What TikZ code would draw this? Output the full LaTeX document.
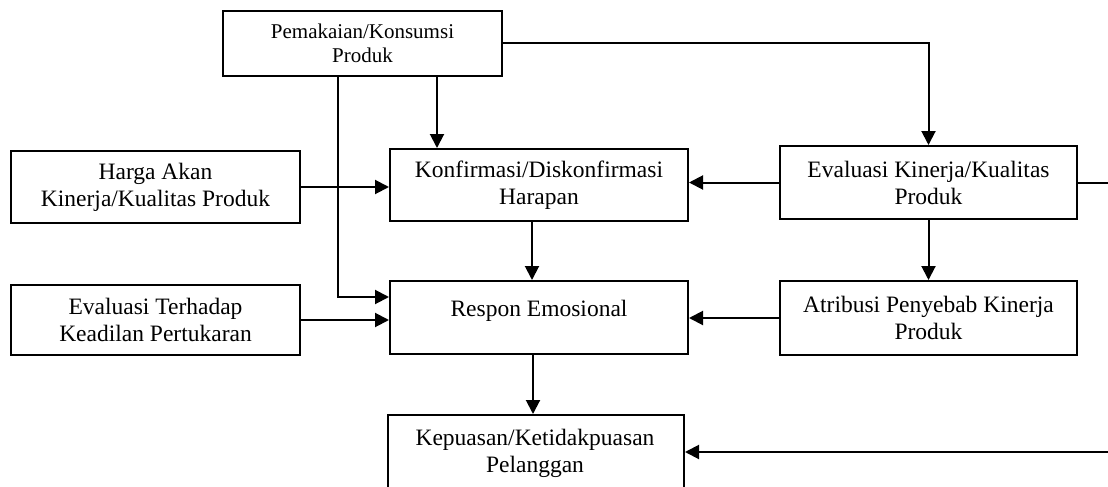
\documentclass[tikz,border=0pt]{standalone}
\usepackage{fontspec}
\setmainfont{Liberation Serif}
\usetikzlibrary{arrows.meta}
\tikzset{
  box/.style={draw, line width=2pt, inner sep=0pt, anchor=north west, align=center,
    font=\fontsize{23.5}{27}\selectfont},
  arr/.style={line width=2pt, -{Triangle[length=14pt,width=14pt]}},
  ln/.style={line width=2pt}
}
\begin{document}
\begin{tikzpicture}[x=1pt,y=-1pt]
\useasboundingbox (0,0) rectangle (1108,487);
\clip (0,0) rectangle (1108,487);
% boxes
\node[box, minimum width=279pt, minimum height=65pt, font=\fontsize{21}{23.5}\selectfont] (pem) at (222,10) {Pemakaian/Konsumsi\\Produk};
\node[box, minimum width=289pt, minimum height=72pt] (harga) at (10,150) {Harga Akan\\Kinerja/Kualitas Produk};
\node[box, minimum width=289pt, minimum height=70pt] (evter) at (10,284) {Evaluasi Terhadap\\Keadilan Pertukaran};
\node[box, minimum width=298pt, minimum height=72pt] (konf) at (389,148) {Konfirmasi/Diskonfirmasi\\Harapan};
\node[box, minimum width=298pt, text height=35pt, text depth=38pt] (resp) at (389,280) {Respon Emosional};
\node[box, minimum width=297pt, minimum height=73pt] (evk) at (779,145) {Evaluasi Kinerja/Kualitas\\Produk};
\node[box, minimum width=297pt, minimum height=74pt] (atr) at (779,280) {Atribusi Penyebab Kinerja\\Produk};
\node[box, minimum width=296pt, minimum height=110pt] (kep) at (387,414) {};
\node[font=\fontsize{23.5}{27}\selectfont, align=center, inner sep=0pt, anchor=north] (kept) at (535,429) {Kepuasan/Ketidakpuasan\\Pelanggan};
% helper coordinates
\coordinate (xa) at (437,0);
\coordinate (xb) at (338,0);
\coordinate (r1) at (389,297);
\coordinate (xc) at (532,0);
\coordinate (xd) at (533,0);
\coordinate (e1) at (1112,0);
\coordinate (e2) at (1112,452);
% connectors
\draw[arr] (pem.east) -| (evk.north);
\draw[arr] (pem.south -| xa) -- (konf.north -| xa);
\draw[arr] (pem.south -| xb) |- (r1);
\draw[arr] (harga.east) -- (harga.east -| konf.west);
\draw[arr] (evter.east) -- (evter.east -| resp.west);
\draw[arr] (evk.west) -- (evk.west -| konf.east);
\draw[arr] (atr.west) -- (atr.west -| resp.east);
\draw[arr] (konf.south -| xc) -- (resp.north -| xc);
\draw[arr] (resp.south -| xd) -- (kep.north -| xd);
\draw[arr] (evk.south) -- (atr.north);
\draw[ln] (evk.east) -- (evk.east -| e1);
\draw[arr] (e2) -- (e2 -| kep.east);
\end{tikzpicture}
\end{document}
